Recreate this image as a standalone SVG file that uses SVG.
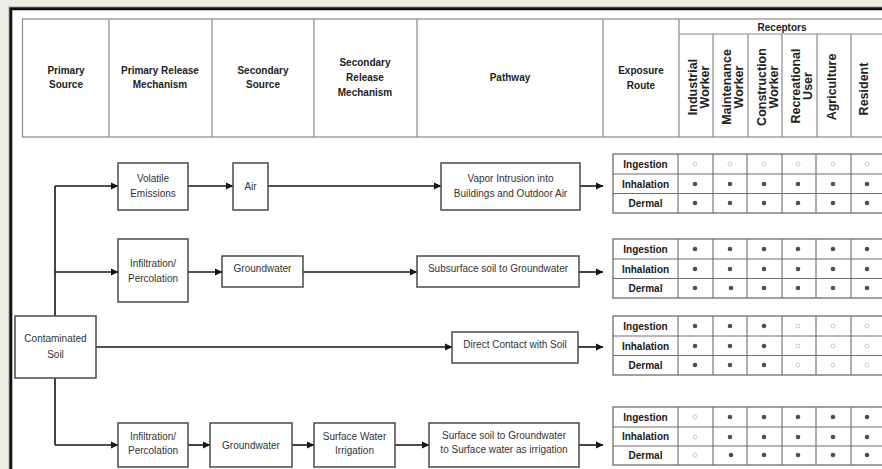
<svg xmlns="http://www.w3.org/2000/svg" width="882" height="469" viewBox="0 0 882 469">
<defs>
<style>
.hdr{font-family:"Liberation Sans",Arial,sans-serif;font-size:10px;font-weight:bold;fill:#222;text-anchor:middle}
.rot{font-family:"Liberation Sans",Arial,sans-serif;font-size:12.5px;font-weight:bold;fill:#222;text-anchor:middle}
.grid{stroke:#8a8a8a;stroke-width:1.2;fill:none}
.box{fill:#fff;stroke:#4a4a4a;stroke-width:1.5}
.lbl{font-family:"Liberation Sans",Arial,sans-serif;font-size:10px;fill:#333;text-anchor:middle}
.tb{fill:#fff;stroke:#6e6e6e;stroke-width:1.3}
.tl{stroke:#6e6e6e;stroke-width:1.1}
.rl{font-family:"Liberation Sans",Arial,sans-serif;font-size:10px;font-weight:bold;fill:#1a1a1a;text-anchor:middle}
.f{fill:#505050}
.h{fill:none;stroke:#c4c4c4;stroke-width:0.9}
.con{stroke:#151515;stroke-width:1.6;fill:none}
.arr{stroke:#151515;stroke-width:1.6;fill:none;marker-end:url(#ah)}
</style>
<marker id="ah" markerWidth="8" markerHeight="8" refX="7" refY="4" orient="auto" markerUnits="userSpaceOnUse">
<path d="M0,0.5 L7.5,4 L0,7.5 Z" fill="#151515"/>
</marker>
</defs>
<rect x="0" y="0" width="882" height="469" fill="#eceee6"/>
<rect x="10" y="8" width="880" height="470" fill="#fff"/>
<path d="M8.5,480 V6.5 H890" fill="none" stroke="#c8c8c8" stroke-width="1"/>
<path d="M10.8,480 V8.8 H890" fill="none" stroke="#111" stroke-width="3"/>

<g id="header">
<rect x="22.5" y="19" width="880" height="118" class="grid"/>
<path class="grid" d="M109,19V137 M212,19V137 M314,19V137 M417,19V137 M603,19V137 M679,19V137 M679,34H890 M713,34V137 M748,34V137 M782,34V137 M817,34V137 M851,34V137"/>
<text class="hdr" x="66" y="74">Primary</text>
<text class="hdr" x="66" y="88">Source</text>
<text class="hdr" x="160" y="74">Primary Release</text>
<text class="hdr" x="160" y="88">Mechanism</text>
<text class="hdr" x="263" y="74">Secondary</text>
<text class="hdr" x="263" y="88">Source</text>
<text class="hdr" x="365" y="66">Secondary</text>
<text class="hdr" x="365" y="81">Release</text>
<text class="hdr" x="365" y="96">Mechanism</text>
<text class="hdr" x="510" y="81">Pathway</text>
<text class="hdr" x="641" y="74">Exposure</text>
<text class="hdr" x="641" y="89">Route</text>
<text class="hdr" x="782" y="31">Receptors</text>
<g transform="translate(697,87) rotate(-90)"><text class="rot" x="0" y="0">Industrial</text></g>
<g transform="translate(709,87) rotate(-90)"><text class="rot" x="0" y="0">Worker</text></g>
<g transform="translate(731,87) rotate(-90)"><text class="rot" x="0" y="0">Maintenance</text></g>
<g transform="translate(743,87) rotate(-90)"><text class="rot" x="0" y="0">Worker</text></g>
<g transform="translate(765.5,87) rotate(-90)"><text class="rot" x="0" y="0">Construction</text></g>
<g transform="translate(777.5,87) rotate(-90)"><text class="rot" x="0" y="0">Worker</text></g>
<g transform="translate(800,86) rotate(-90)"><text class="rot" x="0" y="0">Recreational</text></g>
<g transform="translate(812,86) rotate(-90)"><text class="rot" x="0" y="0">User</text></g>
<g transform="translate(836,87) rotate(-90)"><text class="rot" x="0" y="0">Agriculture</text></g>
<g transform="translate(868,89) rotate(-90)"><text class="rot" x="0" y="0">Resident</text></g>
</g>

<g id="connectors">
<path class="con" d="M55,186 V445"/>
<path class="arr" d="M55,186 H118"/>
<path class="arr" d="M188,186 H233"/>
<path class="arr" d="M268,186 H441"/>
<path class="arr" d="M580,186 H603"/>
<path class="arr" d="M55,272 H118"/>
<path class="arr" d="M188,272 H222"/>
<path class="arr" d="M303,272 H417"/>
<path class="arr" d="M579,272 H603"/>
<path class="arr" d="M96,347 H452"/>
<path class="arr" d="M578,347 H603"/>
<path class="arr" d="M55,445 H118"/>
<path class="arr" d="M188,445 H210"/>
<path class="arr" d="M292,445 H314"/>
<path class="arr" d="M395,445 H429"/>
<path class="arr" d="M579,445 H603"/>
</g>

<g id="contaminated-soil">
<rect class="box" x="15" y="316" width="81" height="62"/>
<text class="lbl" x="55.5" y="342">Contaminated</text>
<text class="lbl" x="55.5" y="358">Soil</text>
</g>
<g id="volatile-emissions">
<rect class="box" x="118" y="163" width="70" height="47"/>
<text class="lbl" x="153" y="182">Volatile</text>
<text class="lbl" x="153" y="197">Emissions</text>
</g>
<g id="air">
<rect class="box" x="233" y="163" width="35" height="47"/>
<text class="lbl" x="250.5" y="190">Air</text>
</g>
<g id="vapor-intrusion">
<rect class="box" x="441" y="163" width="139" height="47"/>
<text class="lbl" x="510.5" y="182">Vapor Intrusion into</text>
<text class="lbl" x="510.5" y="197">Buildings and Outdoor Air</text>
</g>
<g id="infiltration-1">
<rect class="box" x="118" y="239" width="70" height="63"/>
<text class="lbl" x="153" y="267">Infiltration/</text>
<text class="lbl" x="153" y="282">Percolation</text>
</g>
<g id="groundwater-1">
<rect class="box" x="222" y="256" width="81" height="31"/>
<text class="lbl" x="262.5" y="272">Groundwater</text>
</g>
<g id="subsurface-soil">
<rect class="box" x="417" y="256" width="162" height="31"/>
<text class="lbl" x="498" y="272">Subsurface soil to Groundwater</text>
</g>
<g id="direct-contact">
<rect class="box" x="452" y="332" width="126" height="31"/>
<text class="lbl" x="515" y="348">Direct Contact with Soil</text>
</g>
<g id="infiltration-2">
<rect class="box" x="118" y="423" width="70" height="44"/>
<text class="lbl" x="153" y="440">Infiltration/</text>
<text class="lbl" x="153" y="454">Percolation</text>
</g>
<g id="groundwater-2">
<rect class="box" x="210" y="423" width="82" height="44"/>
<text class="lbl" x="251" y="449">Groundwater</text>
</g>
<g id="surface-water-irrigation">
<rect class="box" x="314" y="423" width="81" height="44"/>
<text class="lbl" x="354.5" y="440">Surface Water</text>
<text class="lbl" x="354.5" y="454">Irrigation</text>
</g>
<g id="surface-soil">
<rect class="box" x="429" y="423" width="150" height="44"/>
<text class="lbl" x="504" y="439">Surface soil to Groundwater</text>
<text class="lbl" x="504" y="453">to Surface water as irrigation</text>
</g>

<g id="table-vapor">
<rect class="tb" x="613" y="154" width="280" height="59"/>
<path class="tl" d="M613,174H890 M613,193.5H890 M678,154V213 M713,154V213 M747,154V213 M782,154V213 M816,154V213 M851,154V213"/>
<text class="rl" x="645.5" y="168">Ingestion</text>
<text class="rl" x="645.5" y="187.5">Inhalation</text>
<text class="rl" x="645.5" y="207">Dermal</text>
<circle class="h" cx="695" cy="164" r="2"/><circle class="h" cx="730" cy="164" r="2"/><circle class="h" cx="764" cy="164" r="2"/><circle class="h" cx="798" cy="164" r="2"/><circle class="h" cx="833" cy="164" r="2"/><circle class="h" cx="867" cy="164" r="2"/>
<circle class="f" cx="695" cy="184" r="2.3"/><circle class="f" cx="730" cy="184" r="2.3"/><circle class="f" cx="764" cy="184" r="2.3"/><circle class="f" cx="798" cy="184" r="2.3"/><circle class="f" cx="833" cy="184" r="2.3"/><circle class="f" cx="867" cy="184" r="2.3"/>
<circle class="f" cx="695" cy="203" r="2.3"/><circle class="f" cx="730" cy="203" r="2.3"/><circle class="f" cx="764" cy="203" r="2.3"/><circle class="f" cx="798" cy="203" r="2.3"/><circle class="f" cx="833" cy="203" r="2.3"/><circle class="f" cx="867" cy="203" r="2.3"/>
</g>
<g id="table-subsurface">
<rect class="tb" x="613" y="239" width="280" height="59"/>
<path class="tl" d="M613,259H890 M613,278.5H890 M678,239V298 M713,239V298 M747,239V298 M782,239V298 M816,239V298 M851,239V298"/>
<text class="rl" x="645.5" y="253">Ingestion</text>
<text class="rl" x="645.5" y="272.5">Inhalation</text>
<text class="rl" x="645.5" y="292">Dermal</text>
<circle class="f" cx="695" cy="249" r="2.3"/><circle class="f" cx="730" cy="249" r="2.3"/><circle class="f" cx="764" cy="249" r="2.3"/><circle class="f" cx="798" cy="249" r="2.3"/><circle class="f" cx="833" cy="249" r="2.3"/><circle class="f" cx="867" cy="249" r="2.3"/>
<circle class="f" cx="695" cy="269" r="2.3"/><circle class="f" cx="730" cy="269" r="2.3"/><circle class="f" cx="764" cy="269" r="2.3"/><circle class="f" cx="798" cy="269" r="2.3"/><circle class="f" cx="833" cy="269" r="2.3"/><circle class="f" cx="867" cy="269" r="2.3"/>
<circle class="f" cx="695" cy="288" r="2.3"/><circle class="f" cx="731" cy="288" r="2.3"/><circle class="f" cx="764" cy="288" r="2.3"/><circle class="f" cx="798" cy="288" r="2.3"/><circle class="f" cx="833" cy="288" r="2.3"/><circle class="f" cx="867" cy="288" r="2.3"/>
</g>
<g id="table-direct">
<rect class="tb" x="613" y="316" width="280" height="59"/>
<path class="tl" d="M613,336H890 M613,355.5H890 M678,316V375 M713,316V375 M747,316V375 M782,316V375 M816,316V375 M851,316V375"/>
<text class="rl" x="645.5" y="330">Ingestion</text>
<text class="rl" x="645.5" y="349.5">Inhalation</text>
<text class="rl" x="645.5" y="369">Dermal</text>
<circle class="f" cx="695" cy="326" r="2.3"/><circle class="f" cx="730" cy="326" r="2.3"/><circle class="f" cx="764" cy="326" r="2.3"/><circle class="h" cx="798" cy="326" r="2"/><circle class="h" cx="833" cy="326" r="2"/><circle class="h" cx="867" cy="326" r="2"/>
<circle class="f" cx="695" cy="346" r="2.3"/><circle class="f" cx="730" cy="346" r="2.3"/><circle class="f" cx="764" cy="346" r="2.3"/><circle class="h" cx="798" cy="346" r="2"/><circle class="h" cx="833" cy="346" r="2"/><circle class="h" cx="867" cy="346" r="2"/>
<circle class="f" cx="695" cy="365" r="2.3"/><circle class="f" cx="730" cy="365" r="2.3"/><circle class="f" cx="764" cy="365" r="2.3"/><circle class="h" cx="798" cy="365" r="2"/><circle class="h" cx="833" cy="365" r="2"/><circle class="h" cx="867" cy="365" r="2"/>
</g>
<g id="table-surface">
<rect class="tb" x="613" y="407" width="280" height="58"/>
<path class="tl" d="M613,427H890 M613,446H890 M678,407V465 M713,407V465 M747,407V465 M782,407V465 M816,407V465 M851,407V465"/>
<text class="rl" x="645.5" y="421">Ingestion</text>
<text class="rl" x="645.5" y="440">Inhalation</text>
<text class="rl" x="645.5" y="459">Dermal</text>
<circle class="h" cx="695" cy="417" r="2"/><circle class="f" cx="730" cy="417" r="2.3"/><circle class="f" cx="764" cy="417" r="2.3"/><circle class="f" cx="798" cy="417" r="2.3"/><circle class="f" cx="833" cy="417" r="2.3"/><circle class="f" cx="867" cy="417" r="2.3"/>
<circle class="h" cx="695" cy="437" r="2"/><circle class="f" cx="730" cy="437" r="2.3"/><circle class="f" cx="764" cy="437" r="2.3"/><circle class="f" cx="798" cy="437" r="2.3"/><circle class="f" cx="833" cy="437" r="2.3"/><circle class="f" cx="867" cy="437" r="2.3"/>
<circle class="h" cx="695" cy="455" r="2"/><circle class="f" cx="731" cy="455" r="2.3"/><circle class="f" cx="764" cy="455" r="2.3"/><circle class="f" cx="798" cy="455" r="2.3"/><circle class="f" cx="833" cy="455" r="2.3"/><circle class="f" cx="867" cy="455" r="2.3"/>
</g>
</svg>
